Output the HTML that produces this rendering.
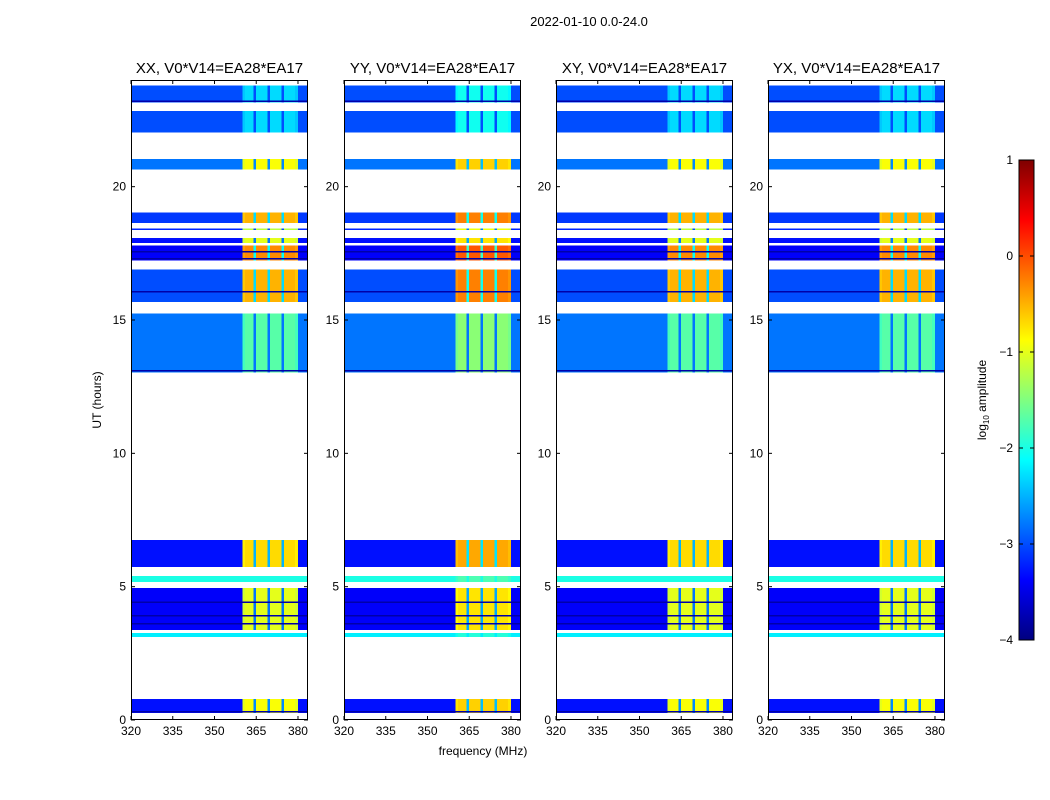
<!DOCTYPE html>
<html><head><meta charset="utf-8"><style>
body{margin:0;background:#fff;}
svg{display:block;font-family:"Liberation Sans","DejaVu Sans",sans-serif;}
</style></head><body>
<svg id="fig" width="1050" height="800" viewBox="0 0 1050 800">
<defs>
<linearGradient id="jet" x1="0" y1="1" x2="0" y2="0">
<stop offset="0" stop-color="#00007f"/><stop offset="0.125" stop-color="#0000ff"/>
<stop offset="0.375" stop-color="#00ffff"/><stop offset="0.5" stop-color="#80ff80"/>
<stop offset="0.625" stop-color="#ffff00"/><stop offset="0.875" stop-color="#ff0000"/>
<stop offset="1" stop-color="#7f0000"/>
</linearGradient>
</defs>
<text x="589" y="26" font-size="13" text-anchor="middle">2022-01-10 0.0-24.0</text>
<text x="483" y="755" font-size="12" text-anchor="middle">frequency (MHz)</text>
<text x="0" y="0" font-size="12" text-anchor="middle" transform="translate(101,400) rotate(-90)">UT (hours)</text>
<g id="panels"></g>
<g id="cbar"></g>
</svg>
<script>
// ---- data ----
const panelTitles = ["XX, V0*V14=EA28*EA17","YY, V0*V14=EA28*EA17","XY, V0*V14=EA28*EA17","YX, V0*V14=EA28*EA17"];
const panelRfiBoost = [0, 0.25, 0, 0];
const segStart = [23.16,22.04,20.65,18.63,18.37,17.88,17.24,15.67,13.04,5.73,5.17,3.37,3.11,0.26];
const segEnd   = [23.80,22.83,21.03,19.04,18.44,18.07,17.80,16.90,15.25,6.75,5.40,4.95,3.26,0.79];
const segBg    = [-3.0,-3.0,-2.8,-3.1,-3.2,-3.3,-3.4,-3.0,-2.8,-3.3,-2.0,-3.4,-2.2,-3.3];
const segRfi   = [-2.3,-2.3,-0.9,-0.5,-1.2,-1.0,-0.3,-0.5,-1.7,-0.7,-2.0,-1.0,-2.2,-0.9];
// thin dark rows (hours) inside data blocks
const darkRow = [23.2,17.55,17.28,16.05,13.08,4.4,3.9,3.6,0.3];
const freqBins = []; for (let f=320; f<384; f++) freqBins.push(f);
const rfiOffset = {360:-0.1,361:0,362:0,363:0,364:-1.8,365:0,366:0,367:0,368:0,369:-1.8,370:0,371:0,372:0,373:0,374:-1.8,375:0,376:0,377:0,378:0,379:-0.1};
const xTicks = [320,335,350,365,380];
const yTicks = [0,5,10,15,20];
const cbTicks = [1,0,-1,-2,-3,-4];
// ---- layout ----
const panelLeft = [131,344,556,768], pw=177, plotTop=80, plotBottom=720;
const xMin=320, xMax=383.6, yMax=24;
const NS="http://www.w3.org/2000/svg";
function jet(v){
  let t=(v+4)/5; t=Math.max(0,Math.min(1,t));
  const c=x=>Math.round(255*Math.max(0,Math.min(1,x)));
  const r=c(1.5-Math.abs(4*t-3)), g=c(1.5-Math.abs(4*t-2)), b=c(1.5-Math.abs(4*t-1));
  return `rgb(${r},${g},${b})`;
}
function el(tag,attrs,parent){const e=document.createElementNS(NS,tag);for(const k in attrs)e.setAttribute(k,attrs[k]);parent.appendChild(e);return e;}
const panels=document.getElementById('panels');
panelLeft.forEach((L,p)=>{
  const sx=f=>L+(f-xMin)/(xMax-xMin)*pw;
  const sy=h=>plotBottom-(h/yMax)*(plotBottom-plotTop);
  const g=el('g',{},panels);
  
  
  const clipId='clip'+p;
  const cp=el('clipPath',{id:clipId},g); el('rect',{x:L,y:plotTop,width:pw,height:plotBottom-plotTop},cp);
  const cells=el('g',{'clip-path':`url(#${clipId})`,'shape-rendering':'crispEdges'},g);
  
  
  segStart.forEach((s,i)=>{
    const y0=sy(segEnd[i]), y1=sy(s);
    freqBins.forEach(f=>{
      const off=rfiOffset[f];
      const v = (off===undefined)? segBg[i] : Math.max(segBg[i], segRfi[i]+panelRfiBoost[p]+off);
      const r=el('rect',{x:sx(f),y:y0,width:sx(f+1)-sx(f)+0.5,height:y1-y0,fill:jet(v)},cells);
      
      
    });
  });
  darkRow.forEach(h=>{
    const r=el('rect',{x:L,y:sy(h)-1,width:pw,height:1.5,fill:jet(-3.8)},cells);
    
    
  });
  el('rect',{x:L+0.5,y:plotTop+0.5,width:pw-1,height:plotBottom-plotTop-1,fill:'none',stroke:'#000','stroke-width':1},g);
  xTicks.forEach(t=>{
    const x=sx(t);
    el('line',{x1:x,x2:x,y1:plotBottom,y2:plotBottom-4,stroke:'#000'},g);
    el('line',{x1:x,x2:x,y1:plotTop,y2:plotTop+4,stroke:'#000'},g);
    const tx=el('text',{x:x,y:plotBottom+15,'font-size':12,'text-anchor':'middle'},g); tx.textContent=t;
    
    
  });
  yTicks.forEach(t=>{
    const y=sy(t);
    el('line',{x1:L,x2:L+4,y1:y,y2:y,stroke:'#000'},g);
    el('line',{x1:L+pw,x2:L+pw-4,y1:y,y2:y,stroke:'#000'},g);
    const tx=el('text',{x:L-5,y:y+4,'font-size':12,'text-anchor':'end'},g); tx.textContent=t;
    
    
  });
  const ti=el('text',{x:L+pw/2,y:73,'font-size':15,'text-anchor':'middle'},g); ti.textContent=panelTitles[p];
  
  
});
const cb=document.getElementById('cbar');
const cbT=160, cbB=640, cbL=1019, cbW=15;
el('rect',{x:cbL,y:cbT,width:cbW,height:cbB-cbT,fill:'url(#jet)',stroke:'#000','stroke-width':1},cb);
cbTicks.forEach(t=>{
  const y=cbB-(t+4)/5*(cbB-cbT);
  el('line',{x1:cbL,x2:cbL+4,y1:y,y2:y,stroke:'#000'},cb);
  el('line',{x1:cbL+cbW,x2:cbL+cbW-4,y1:y,y2:y,stroke:'#000'},cb);
  const tx=el('text',{x:1013,y:y+4,'font-size':12,'text-anchor':'end'},cb); tx.textContent=(t<0?'\u2212'+(-t):String(t));
  
  
});
const cl=el('text',{'font-size':12,'text-anchor':'middle',transform:'translate(986,400) rotate(-90)'},cb);


const t1=el('tspan',{},cl); t1.textContent='log';
const t2=el('tspan',{'font-size':8,dy:3},cl); t2.textContent='10';
const t3=el('tspan',{dy:-3},cl); t3.textContent=' amplitude';
</script>
</body></html>
